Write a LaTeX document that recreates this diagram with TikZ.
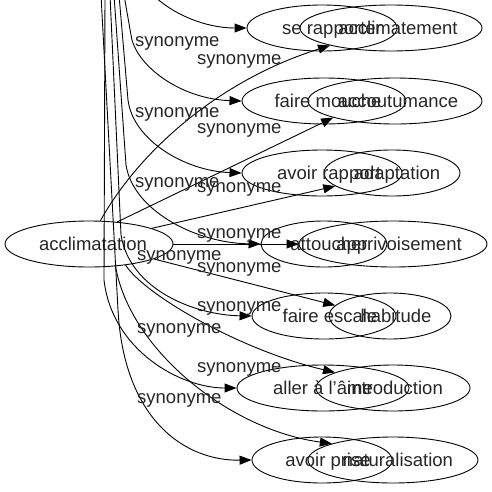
\documentclass[tikz,border=0pt]{standalone}
\usepackage{fontspec}
\setmainfont{Liberation Sans}
\usetikzlibrary{arrows.meta,shapes.geometric}
\begin{document}
\begin{tikzpicture}[x=1pt,y=-1pt,
  ell/.style={draw, ellipse, inner sep=0pt, minimum height=46pt, line width=0.9pt},
  txt/.style={font=\fontsize{18.5}{20}\selectfont, inner sep=0pt, anchor=base, text=black!85},
  lab/.style={font=\fontsize{18.5}{20}\selectfont, inner sep=0pt, anchor=base west, text=black!85},
  edge/.style={line width=0.9pt, -{Triangle[length=12pt,width=9pt]}},
]
\useasboundingbox (0,0) rectangle (492,491);
\clip (0,0) rectangle (492,491);
% central node
\node[ell, minimum width=168pt] (acc) at (89,244) {};
\node[txt] (tacc) at (93,250) {acclimatation};
% left column nodes
\node[ell, minimum width=150pt] (a1) at (322,28) {};
\node[ell, minimum width=164pt] (a2) at (324,101) {};
\node[ell, minimum width=160pt] (a3) at (322,173) {};
\node[ell, minimum width=126pt] (a4) at (324,244) {};
\node[ell, minimum width=144pt] (a5) at (324,316) {};
\node[ell, minimum width=172pt] (a6) at (323,388) {};
\node[ell, minimum width=140pt] (a7) at (322,460) {};
% right column nodes
\node[ell, minimum width=182pt] (b1) at (391,28) {};
\node[ell, minimum width=174pt] (b2) at (395,101) {};
\node[ell, minimum width=136pt] (b3) at (392,173) {};
\node[ell, minimum width=188pt] (b4) at (393,244) {};
\node[ell, minimum width=122pt] (b5) at (390,316) {};
\node[ell, minimum width=154pt] (b6) at (393,388) {};
\node[ell, minimum width=170pt] (b7) at (393,460) {};
% texts
\node[txt] (ta1) at (332,34) {se rapporter};
\node[txt] (ta2) at (328,107) {faire mouche};
\node[txt] (ta3) at (329,179) {avoir rapport};
\node[txt] (ta4) at (329,250) {attoucher};
\node[txt] (ta5) at (330,322) {faire escale};
\node[txt] (ta6) at (323,394) {aller à l'âme};
\node[txt] (ta7) at (328,466) {avoir prise};
\node[txt] (tb1) at (398,34) {acclimatement};
\node[txt] (tb2) at (398,107) {accoutumance};
\node[txt] (tb3) at (397,179) {adaptation};
\node[txt] (tb4) at (399,250) {apprivoisement};
\node[txt] (tb5) at (396,322) {habitude};
\node[txt] (tb6) at (395,394) {introduction};
\node[txt] (tb7) at (398,466) {naturalisation};
% off-picture sources and bends
\coordinate (sA1) at (152,-6);
\coordinate (sA2) at (124,-5);  \coordinate (qA2) at (131,35);
\coordinate (sA3) at (119,-5);  \coordinate (qA3) at (128,100);
\coordinate (sA4) at (114,-5);  \coordinate (qA4) at (126,165);
\coordinate (sA5) at (110,-5);  \coordinate (qA5) at (121,235);
\coordinate (sA6) at (105,-5);  \coordinate (qA6) at (104,280);
\coordinate (sA7) at (101,-5);  \coordinate (qA7) at (118,310);
% edges to left column
\draw[edge] (sA1) .. controls (172,14) and (205,28) .. (a1.180);
\draw[edge] (sA2) -- (qA2) .. controls (135,65) and (180,99) .. (a2.180);
\draw[edge] (sA3) -- (qA3) .. controls (133,140) and (185,171) .. (a3.180);
\draw[edge] (sA4) -- (qA4) .. controls (133,210) and (195,243) .. (a4.180);
\draw[edge] (sA5) -- (qA5) .. controls (130,290) and (195,315) .. (a5.180);
\draw[edge] (sA6) -- (qA6) .. controls (112,350) and (180,388) .. (a6.180);
\draw[edge] (sA7) -- (qA7) .. controls (124,420) and (185,461) .. (a7.180);
% edges to right column
\draw[edge] (acc.64) .. controls (140,150) and (220,80) .. (b1.196);
\draw[edge] (acc.38) -- (b2.195);
\draw[edge] (acc.14) -- (b3.193);
\draw[edge] (acc.0) -- (b4.180);
\draw[edge] (acc.347) -- (b5.169);
\draw[edge] (acc.330) .. controls (145,295) and (240,350) .. (b6.165);
\draw[edge] (acc.320) .. controls (130,350) and (230,430) .. (b7.165);
% edge labels
\node[lab] (l1) at (135,46) {synonyme};
\node[lab] (l2) at (197,64) {synonyme};
\node[lab] (l3) at (135,117) {synonyme};
\node[lab] (l4) at (197,133) {synonyme};
\node[lab] (l5) at (135,187) {synonyme};
\node[lab] (l6) at (197,192) {synonyme};
\node[lab] (l7) at (197,238) {synonyme};
\node[lab] (l8) at (137,260) {synonyme};
\node[lab] (l9) at (197,272) {synonyme};
\node[lab] (l10) at (197,311) {synonyme};
\node[lab] (l11) at (137,333) {synonyme};
\node[lab] (l12) at (197,372) {synonyme};
\node[lab] (l13) at (137,403) {synonyme};
\end{tikzpicture}
\end{document}
